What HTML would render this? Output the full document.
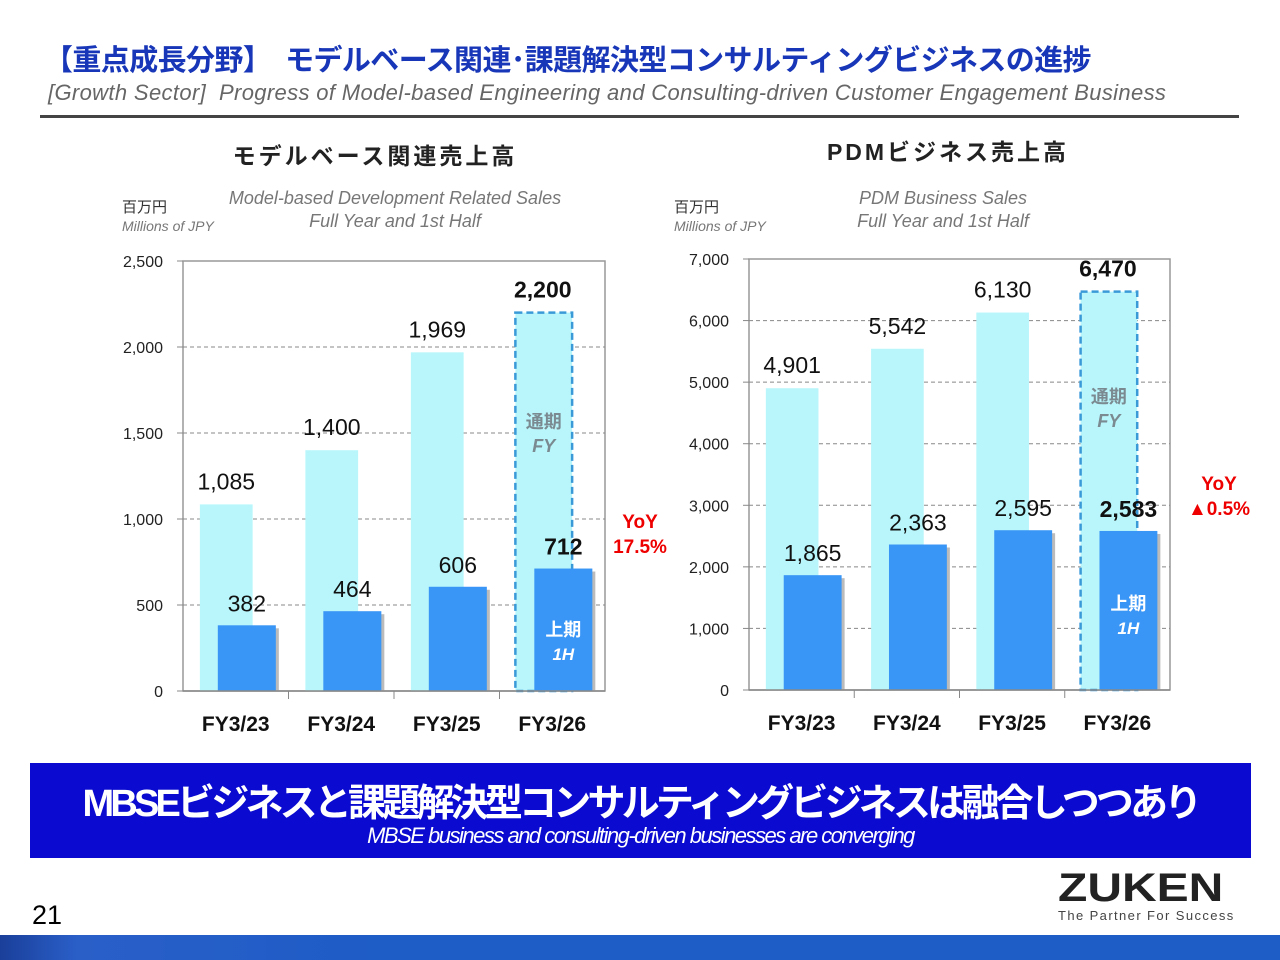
<!DOCTYPE html>
<html><head><meta charset="utf-8">
<style>
body{margin:0;width:1280px;height:960px;background:#fff;position:relative;overflow:hidden;font-family:"Liberation Sans","Noto Sans CJK JP",sans-serif}
.abs{position:absolute;white-space:nowrap}
</style></head><body>
<div class="abs" style="left:44px;top:37px;font-size:29px;font-weight:bold;color:#1736b8;letter-spacing:-0.6px">【重点成長分野】　モデルベース関連･課題解決型コンサルティングビジネスの進捗</div>
<div class="abs" style="left:48px;top:80px;font-size:22px;font-style:italic;color:#666;letter-spacing:0.35px">[Growth Sector]&nbsp; Progress of Model-based Engineering and Consulting-driven Customer Engagement Business</div>
<div class="abs" style="left:40px;top:115px;width:1199px;height:3px;background:#444"></div>

<svg id="chart" class="abs" style="left:0;top:0" width="1280" height="760"></svg>

<div class="abs" style="left:30px;top:763px;width:1221px;height:95px;background:#0a0ad0"></div>
<div class="abs" style="left:30px;top:772px;width:1221px;text-align:center;font-size:38px;font-weight:bold;color:#fff;letter-spacing:-3.8px">MBSEビジネスと課題解決型コンサルティングビジネスは融合しつつあり</div>
<div class="abs" style="left:30px;top:823px;width:1221px;text-align:center;font-size:22px;font-style:italic;color:#fff;letter-spacing:-1.5px">MBSE business and consulting-driven businesses are converging</div>

<div class="abs" style="left:32px;top:900px;font-size:27px;color:#000">21</div>
<div class="abs" style="left:1058px;top:866px;font-size:40px;font-weight:bold;color:#222;letter-spacing:0px;transform:scaleX(1.2);transform-origin:left">ZUKEN</div>
<div class="abs" style="left:1058px;top:908px;font-size:13px;color:#444;letter-spacing:1.4px">The Partner For Success</div>
<div class="abs" style="left:0;top:935px;width:1280px;height:25px;background:linear-gradient(90deg,#1a3f9a 0,#2a5fc8 6%,#1e5cc6 30%,#1e5cc6 100%)"></div>

<script>
const catsL=["FY3/23","FY3/24","FY3/25","FY3/26"];
const fyL=[1085,1400,1969,2200];
const h1L=[382,464,606,712];
const ticksL=[0,500,1000,1500,2000,2500];
const catsR=["FY3/23","FY3/24","FY3/25","FY3/26"];
const fyR=[4901,5542,6130,6470];
const h1R=[1865,2363,2595,2583];
const ticksR=[0,1000,2000,3000,4000,5000,6000,7000];

const NS="http://www.w3.org/2000/svg";
const svg=document.getElementById('chart');
function mk(t,a,txt){const e=document.createElementNS(NS,t);for(const k in a)e.setAttribute(k,a[k]);if(txt!==undefined)e.textContent=txt;svg.appendChild(e);return e;}
function fmt(v){return v.toLocaleString('en-US');}

function drawChart(o){
  const {x0,x1,y0,y1,max,cats,fy,h1,ticks,p}=o;
  const y=v=>y0-(v/max)*(y0-y1);
  const bw=(x1-x0)/cats.length;
  const bx=i=>x0+i*bw;
  let e;
  e=mk('rect',{x:x0,y:y1,width:x1-x0,height:y0-y1,fill:'none',stroke:'#999','stroke-width':1.5});
  
  ticks.forEach(t=>{
    if(t>0&&t<max){e=mk('line',{x1:x0,x2:x1,y1:y(t),y2:y(t),stroke:'#888','stroke-dasharray':'4,3'});
    }
    e=mk('text',{x:x0-20,y:y(t)+6,'text-anchor':'end','font-size':16,fill:'#222'},fmt(t));
    
    e=mk('line',{x1:x0-6,x2:x0,y1:y(t),y2:y(t),stroke:'#888'});
    
  });
  cats.forEach((c,i)=>{
    const last=i===cats.length-1;
    const fx=bx(i)+bw*0.16, fw=bw*0.5;
    if(last){
      e=mk('rect',{x:fx-1,y:y(fy[i]),width:fw+4,height:y0-y(fy[i]),fill:'#b8f6fb',stroke:'#3a9ad8','stroke-width':2.5,'stroke-dasharray':'7,4'});
    }else{
      e=mk('rect',{x:fx,y:y(fy[i]),width:fw,height:y0-y(fy[i]),fill:'#b8f6fb'});
    }
    
    const hx=bx(i)+bw*0.33, hw=bw*0.55;
    e=mk('rect',{x:hx+3,y:y(h1[i])+3,width:hw,height:y0-y(h1[i])-3,fill:'#bbb'});
    
    e=mk('rect',{x:hx,y:y(h1[i]),width:hw,height:y0-y(h1[i]),fill:'#3a96f6'});
    
    e=mk('text',{x:fx+fw/2,y:y(fy[i])-15,'text-anchor':'middle','font-size':23,'font-weight':last?'bold':'normal',fill:'#111'},fmt(fy[i]));
    
    e=mk('text',{x:hx+hw/2,y:y(h1[i])-14,'text-anchor':'middle','font-size':23,'font-weight':last?'bold':'normal',fill:'#111'},fmt(h1[i]));
    
    e=mk('text',{x:bx(i)+bw/2,y:y0+40,'text-anchor':'middle','font-size':21,'font-weight':'bold',fill:'#111'},c);
    
    if(i>0){e=mk('line',{x1:bx(i),x2:bx(i),y1:y0,y2:y0+8,stroke:'#888'});
    }
    if(last){
      e=mk('text',{x:fx+fw/2+1,y:o.fyTagY,'text-anchor':'middle','font-size':18,'font-weight':'bold',fill:'#7a8a90'},'通期');
      
      e=mk('text',{x:fx+fw/2+1,y:o.fyTagY+24,'text-anchor':'middle','font-size':18,'font-weight':'bold','font-style':'italic',fill:'#7a8a90'},'FY');
      
      e=mk('text',{x:hx+hw/2,y:o.hTagY,'text-anchor':'middle','font-size':18,'font-weight':'bold',fill:'#fff'},'上期');
      
      e=mk('text',{x:hx+hw/2,y:o.hTagY+24,'text-anchor':'middle','font-size':17,'font-weight':'bold','font-style':'italic',fill:'#fff'},'1H');
      
    }
  });
  e=mk('line',{x1:x0,x2:x1,y1:y0,y2:y0,stroke:'#888','stroke-width':1.5});
}
drawChart({x0:183,x1:605,y0:691,y1:261,max:2500,cats:catsL,fy:fyL,h1:h1L,ticks:ticksL,p:'left',fyTagY:428,hTagY:636});
drawChart({x0:749,x1:1170,y0:690,y1:259,max:7000,cats:catsR,fy:fyR,h1:h1R,ticks:ticksR,p:'right',fyTagY:403,hTagY:610});

function t(x,y,s,txt,st,name){const e=mk('text',Object.assign({x:x,y:y,'font-size':s},st),txt);}
t(375,164,23,'モデルベース関連売上高',{'text-anchor':'middle','font-weight':'bold',fill:'#222','letter-spacing':'3'},'left-chart-title');
t(395,204,18,'Model-based Development Related Sales',{'text-anchor':'middle','font-style':'italic',fill:'#777'},'left-chart-subtitle');
t(395,227,18,'Full Year and 1st Half',{'text-anchor':'middle','font-style':'italic',fill:'#777'},'left-chart-subtitle-2');
t(122,212,15,'百万円',{fill:'#333'},'left-unit');
t(122,231,14,'Millions of JPY',{'font-style':'italic',fill:'#777'},'left-unit-en');
t(948,160,23,'PDMビジネス売上高',{'text-anchor':'middle','font-weight':'bold',fill:'#222','letter-spacing':'3'},'right-chart-title');
t(943,204,18,'PDM Business Sales',{'text-anchor':'middle','font-style':'italic',fill:'#777'},'right-chart-subtitle');
t(943,227,18,'Full Year and 1st Half',{'text-anchor':'middle','font-style':'italic',fill:'#777'},'right-chart-subtitle-2');
t(674,212,15,'百万円',{fill:'#333'},'right-unit');
t(674,231,14,'Millions of JPY',{'font-style':'italic',fill:'#777'},'right-unit-en');
t(640,528,19,'YoY',{'text-anchor':'middle','font-weight':'bold',fill:'#e00'},'left-yoy-label');
t(640,553,19,'17.5%',{'text-anchor':'middle','font-weight':'bold',fill:'#e00'},'left-yoy-value');
t(1219,490,19,'YoY',{'text-anchor':'middle','font-weight':'bold',fill:'#e00'},'right-yoy-label');
t(1219,515,19,'▲0.5%',{'text-anchor':'middle','font-weight':'bold',fill:'#e00'},'right-yoy-value');
</script>
</body></html>
